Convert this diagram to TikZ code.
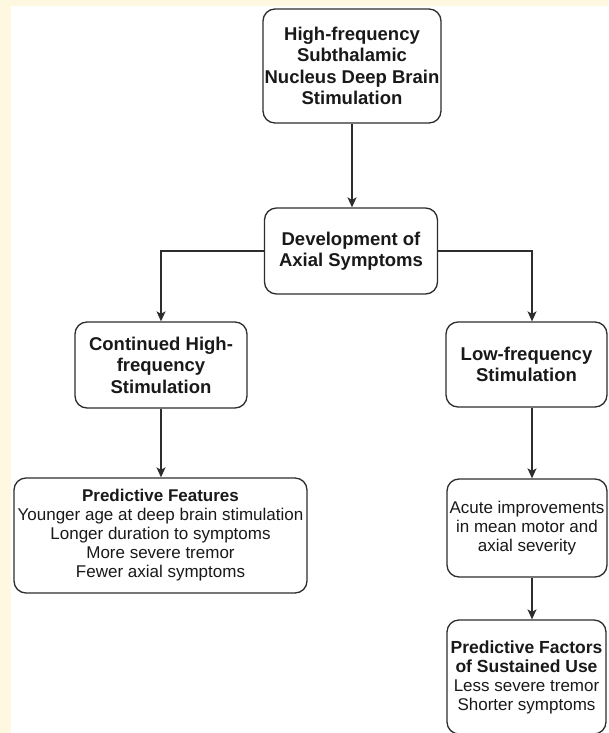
\documentclass[tikz,border=0pt]{standalone}
\usepackage{fontspec}
\setmainfont{Liberation Sans}
\usetikzlibrary{arrows.meta,calc}
\definecolor{cream}{RGB}{255,248,225}
\definecolor{ink}{RGB}{25,25,25}
\definecolor{edge}{RGB}{45,45,45}
\tikzset{
  box/.style={draw=edge, line width=1.3pt, rounded corners=12pt, fill=white,
    inner sep=0pt, align=center, text=ink},
  big/.style={font=\fontsize{18.5}{21.5}\selectfont\bfseries},
  small/.style={font=\fontsize{17}{19}\selectfont},
  arr/.style={draw=edge, line width=1.3pt, -{Stealth[length=10pt,width=9pt,inset=2.5pt]}}
}
\begin{document}
\begin{tikzpicture}[x=1pt,y=-1pt]
\useasboundingbox (0,0) rectangle (608,733);
\fill[white] (0,0) rectangle (608,733);
\fill[cream] (0,0) rectangle (608,6);
\fill[cream] (0,0) rectangle (11,733);
\clip (0,0) rectangle (608,733);

\node[box,big,minimum width=178pt,minimum height=114pt] (top) at (352,66)
  {High-frequency\\Subthalamic\\Nucleus Deep Brain\\Stimulation};
\node[box,big,minimum width=173pt,minimum height=86pt] (dev) at (351,251)
  {Development of\\Axial Symptoms};
\node[box,big,minimum width=172pt,minimum height=86pt] (cont) at (161,365)
  {Continued High-\\frequency\\Stimulation};
\node[box,big,minimum width=161pt,minimum height=85pt] (low) at (526.5,364.5)
  {Low-frequency\\Stimulation};
\node[box,small,minimum width=293pt,minimum height=115pt] (pred) at (160.5,535.5)
  {\textbf{Predictive Features}\\Younger age at deep brain stimulation\\Longer duration to symptoms\\More severe tremor\\Fewer axial symptoms};
\node[box,small,minimum width=160pt,minimum height=98pt] (acute) at (527,528)
  {Acute improvements\\in mean motor and\\axial severity};
\node[box,small,minimum width=159pt,minimum height=114pt] (sust) at (526.5,677)
  {\fontsize{17.5}{18}\selectfont\textbf{Predictive Factors}\\\fontsize{17.5}{18}\selectfont\textbf{of Sustained Use}\\Less severe tremor\\Shorter symptoms};

\coordinate (rx) at (532,0);
\draw[arr] (top.south) -- (top.south |- dev.north);
\draw[arr] (dev.west) -| (cont.north);
\draw[arr] (dev.east) -| (rx |- low.north);
\draw[arr] (cont.south) -- (pred.north -| cont.south);
\draw[arr] (rx |- low.south) -- (rx |- acute.north);
\draw[arr] (rx |- acute.south) -- (rx |- sust.north);
\end{tikzpicture}
\end{document}
